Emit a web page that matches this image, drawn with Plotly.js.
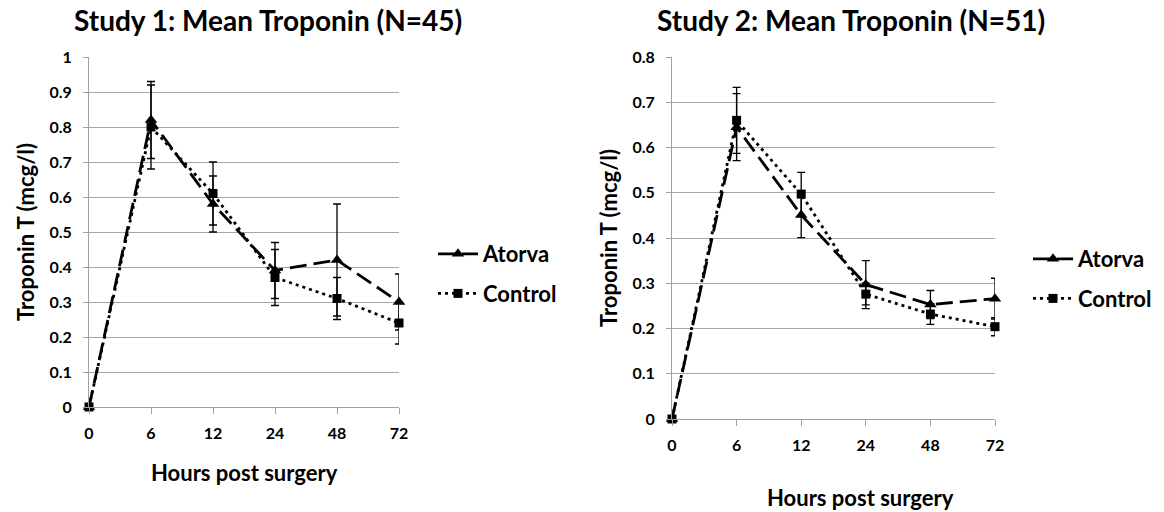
<!DOCTYPE html>
<html>
<head>
<meta charset="utf-8">
<script src="https://cdn.plot.ly/plotly-3.0.1.min.js"></script>
<style>html,body{margin:0;padding:0;background:#fff;}#chart{width:1164px;height:512px;}</style>
</head>
<body>
<div id="chart"></div>
<script>
// ---- data ----
const categories = ['0', '6', '12', '24', '48', '72'];
const s1Atorva = [0, 0.82, 0.58, 0.39, 0.42, 0.30];
const s1AtorvaErr = [0, 0.11, 0.08, 0.08, 0.16, 0.08];
const s1Control = [0, 0.80, 0.61, 0.37, 0.31, 0.24];
const s1ControlErr = [0, 0.12, 0.09, 0.08, 0.06, 0.06];
const s2Atorva = [0, 0.645, 0.451, 0.297, 0.253, 0.266];
const s2AtorvaErr = [0, 0.074, 0.05, 0.053, 0.031, 0.045];
const s2Control = [0, 0.66, 0.497, 0.276, 0.232, 0.204];
const s2ControlErr = [0, 0.073, 0.048, 0.024, 0.023, 0.02];
const seriesNames = ['Atorva', 'Control'];
const titles = ['Study 1: Mean Troponin (N=45)', 'Study 2: Mean Troponin (N=51)'];
const yTitle = 'Troponin T (mcg/l)';
const xTitle = 'Hours post surgery';

const W = 1164, H = 512;
const FONT = 'Lato, "Open Sans", sans-serif';
const px = v => v / W;
const py = v => 1 - v / H;

function err(arr) {
  return {type: 'data', array: arr, visible: true, color: '#000', thickness: 1.3, width: 4};
}
function atorva(y, e, xa, ya, lg) {
  return {x: categories, y: y, name: seriesNames[0], xaxis: xa, yaxis: ya, legend: lg,
    legendgroup: lg + 'a', mode: 'lines+markers', cliponaxis: false,
    line: {color: '#000', width: 2.8, dash: '17px,7px'},
    marker: {symbol: 'triangle-up', size: 11, color: '#000'},
    error_y: err(e)};
}
function control(y, e, xa, ya, lg) {
  return {x: categories, y: y, name: seriesNames[1], xaxis: xa, yaxis: ya, legend: lg,
    legendgroup: lg + 'c', mode: 'lines+markers', cliponaxis: false,
    line: {color: '#000', width: 2.8, dash: '3px,4px'},
    marker: {symbol: 'square', size: 9, color: '#000'},
    error_y: err(e)};
}

const data = [
  atorva(s1Atorva, s1AtorvaErr, 'x', 'y', 'legend'),
  control(s1Control, s1ControlErr, 'x', 'y', 'legend'),
  atorva(s2Atorva, s2AtorvaErr, 'x2', 'y2', 'legend2'),
  control(s2Control, s2ControlErr, 'x2', 'y2', 'legend2')
];

const tickFont = {family: FONT, size: 16, color: '#000', weight: 'bold'};
function xax(dom, anchor) {
  return {type: 'category', domain: dom, anchor: anchor, range: [0, 5],
    showgrid: false, zeroline: false, showline: true, linecolor: '#a0a0a0', linewidth: 1,
    ticks: 'outside', ticklen: 6, tickcolor: '#a0a0a0', tickwidth: 1,
    tickfont: tickFont, ticklabelstandoff: 6, fixedrange: true};
}
function yax(dom, anchor, max) {
  return {domain: dom, anchor: anchor, range: [0, max], dtick: 0.1, tick0: 0,
    showgrid: true, gridcolor: '#a6a6a6', gridwidth: 1, zeroline: false,
    showline: true, linecolor: '#a0a0a0', linewidth: 1,
    ticks: 'outside', ticklen: 5, tickcolor: '#a0a0a0', tickwidth: 1,
    tickfont: tickFont, ticklabelstandoff: 8, fixedrange: true};
}

const legendFont = {family: FONT, size: 22, color: '#000', weight: 'bold'};
const layout = {
  width: W, height: H,
  margin: {l: 0, r: 0, t: 0, b: 0},
  paper_bgcolor: '#fff', plot_bgcolor: '#fff',
  font: {family: FONT, color: '#000'},
  xaxis: xax([px(89), px(399)], 'y'),
  yaxis: yax([py(407), py(57)], 'x', 1),
  xaxis2: xax([px(672), px(995)], 'y2'),
  yaxis2: yax([py(419), py(57)], 'x2', 0.8),
  legend: {x: px(433), y: py(233), xanchor: 'left', yanchor: 'top', font: legendFont,
    bgcolor: 'rgba(0,0,0,0)', tracegroupgap: 8, traceorder: 'grouped', itemwidth: 40},
  legend2: {x: px(1028), y: py(238), xanchor: 'left', yanchor: 'top', font: legendFont,
    bgcolor: 'rgba(0,0,0,0)', tracegroupgap: 8, traceorder: 'grouped', itemwidth: 40},
  showlegend: true,
  annotations: [
    {text: titles[0], xref: 'paper', yref: 'paper', x: px(268), y: py(20), showarrow: false,
     xanchor: 'center', yanchor: 'middle', font: {family: FONT, size: 28, color: '#000', weight: 'bold'}},
    {text: titles[1], xref: 'paper', yref: 'paper', x: px(851), y: py(20), showarrow: false,
     xanchor: 'center', yanchor: 'middle', font: {family: FONT, size: 28, color: '#000', weight: 'bold'}},
    {text: yTitle, xref: 'paper', yref: 'paper', x: px(25), y: py(232), showarrow: false, textangle: -90,
     xanchor: 'center', yanchor: 'middle', font: {family: FONT, size: 22, color: '#000', weight: 'bold'}},
    {text: yTitle, xref: 'paper', yref: 'paper', x: px(608), y: py(238), showarrow: false, textangle: -90,
     xanchor: 'center', yanchor: 'middle', font: {family: FONT, size: 22, color: '#000', weight: 'bold'}},
    {text: xTitle, xref: 'paper', yref: 'paper', x: px(244), y: py(472), showarrow: false,
     xanchor: 'center', yanchor: 'middle', font: {family: FONT, size: 22, color: '#000', weight: 'bold'}},
    {text: xTitle, xref: 'paper', yref: 'paper', x: px(860), y: py(497), showarrow: false,
     xanchor: 'center', yanchor: 'middle', font: {family: FONT, size: 22, color: '#000', weight: 'bold'}}
  ]
};

Plotly.newPlot('chart', data, layout, {displayModeBar: false, staticPlot: true});
</script>
</body>
</html>
